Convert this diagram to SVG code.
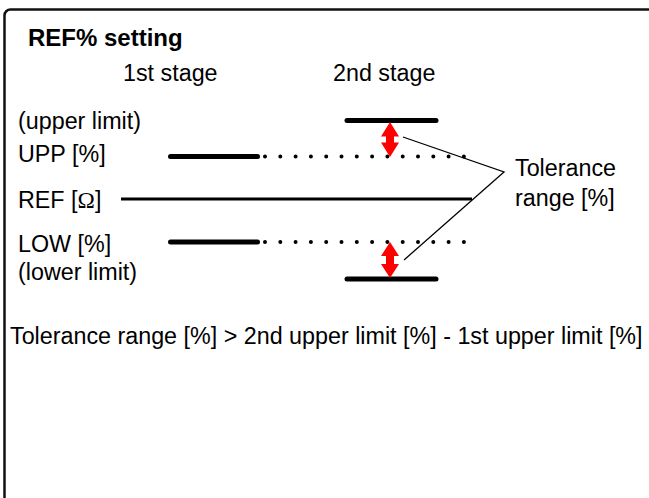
<svg xmlns="http://www.w3.org/2000/svg" width="649" height="498" viewBox="0 0 649 498">
<defs>
<style>
text{font-family:"Liberation Sans",Arial,sans-serif;font-size:23.3px;fill:#000}
.title{font-weight:bold;font-size:24px}
.omega{font-family:"Liberation Serif","Times New Roman",serif}
.thick{stroke:#000;stroke-width:5;stroke-linecap:round;fill:none}
.ref{stroke:#000;stroke-width:3;fill:none}
.dots{stroke:#000;stroke-width:4;stroke-linecap:round;stroke-dasharray:0 15.3;fill:none}
.arrow{fill:#ff0000;stroke:none}
.leader{stroke:#000;stroke-width:1.3;fill:none}
</style>
</defs>
<rect x="4.5" y="9.5" width="700" height="600" rx="6" fill="#fff" stroke="#111" stroke-width="2.5"/>
<g id="title"><text class="title" x="28" y="46">REF% setting</text></g>
<g id="stage1-label"><text x="123" y="81">1st stage</text></g>
<g id="stage2-label"><text x="333" y="81">2nd stage</text></g>
<g id="labels">
<text x="18" y="129">(upper limit)</text>
<text x="18" y="162">UPP [%]</text>
<text x="18" y="208">REF [<tspan class="omega">Ω</tspan>]</text>
<text x="18" y="252">LOW [%]</text>
<text x="18" y="280">(lower limit)</text>
</g>
<g id="tolerance-label">
<text x="515" y="176">Tolerance</text>
<text x="515" y="206">range [%]</text>
</g>
<g id="formula"><text x="10" y="344">Tolerance range [%] &gt; 2nd upper limit [%] - 1st upper limit [%]</text></g>
<g id="stage1-levels">
<line class="thick" x1="170.5" y1="156.5" x2="257.5" y2="156.5"/>
<line class="thick" x1="170.5" y1="242" x2="257.5" y2="242"/>
</g>
<g id="stage2-levels">
<line class="thick" x1="347" y1="120.5" x2="436" y2="120.5"/>
<line class="thick" x1="347" y1="279" x2="436" y2="279"/>
</g>
<g id="connectors">
<line class="ref" x1="121" y1="199" x2="472" y2="199"/>
<line class="dots" x1="265" y1="156.5" x2="465" y2="156.5"/>
<line class="dots" x1="265" y1="242" x2="465" y2="242"/>
<polygon class="arrow" points="390,122 399,136.5 394,136.5 394,142.5 399,142.5 390,157 381,142.5 386,142.5 386,136.5 381,136.5"/>
<polygon class="arrow" points="390,242 399,256 394,256 394,264 399,264 390,278 381,264 386,264 386,256 381,256"/>
<polyline class="leader" points="403,137 504,172 404,260"/>
</g>
</svg>
